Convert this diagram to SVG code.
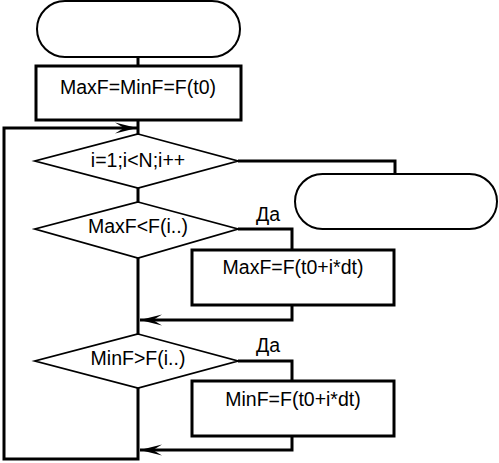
<svg xmlns="http://www.w3.org/2000/svg" width="499" height="463" viewBox="0 0 499 463">
<style>
text{font-family:"Liberation Sans",Arial,sans-serif;font-size:19.5px;fill:#000;text-anchor:middle}
.term{fill:#fff;stroke:#000;stroke-width:2}
.proc{fill:#fff;stroke:#000;stroke-width:3}
.dec{fill:#fff;stroke:#000;stroke-width:1.8}
.con{fill:none;stroke:#000;stroke-width:3}
</style>
<defs>
<marker id="arr" markerWidth="24" markerHeight="14" refX="22" refY="7" orient="auto" markerUnits="userSpaceOnUse">
<path d="M0,1.5 L22,7 L0,12.5 L9,7 Z" fill="#000"/>
</marker>
</defs>
<g id="connectors">
<path class="con" d="M138,57 V66"/>
<path class="con" d="M138,120 V134"/>
<path class="con" d="M138,188 V202"/>
<path class="con" d="M138,258 V334"/>
<path class="con" d="M238,161 H395 V174"/>
<path class="con" d="M238,229 H292 V250"/>
<path class="con" d="M292,305 V320 H140" marker-end="url(#arr)"/>
<path class="con" d="M238,361 H292 V381"/>
<path class="con" d="M292,436 V450 H140" marker-end="url(#arr)"/>
<path class="con" d="M138,388 V459 H4 V128 H137" marker-end="url(#arr)"/>
</g>
<g id="start"><rect class="term" x="37" y="1" width="203" height="56" rx="28"/></g>
<g id="init"><rect class="proc" x="36" y="66" width="205" height="54"/><text x="138" y="94">MaxF=MinF=F(t0)</text></g>
<g id="loop"><polygon class="dec" points="138,134 238,161 138,188 35,161"/><text x="138" y="167">i=1;i&lt;N;i++</text></g>
<g id="end"><rect class="term" x="295" y="174" width="202" height="55" rx="27.5"/></g>
<g id="cmpmax"><polygon class="dec" points="138,202 238,229 138,258 35,229"/><text x="138" y="233">MaxF&lt;F(i..)</text></g>
<text x="268" y="221">Да</text>
<g id="setmax"><rect class="proc" x="192" y="250" width="202" height="55"/><text x="293" y="274">MaxF=F(t0+i*dt)</text></g>
<g id="cmpmin"><polygon class="dec" points="138,334 238,361 138,388 35,361"/><text x="138" y="365">MinF&gt;F(i..)</text></g>
<text x="268" y="352">Да</text>
<g id="setmin"><rect class="proc" x="192" y="381" width="202" height="55"/><text x="293" y="406">MinF=F(t0+i*dt)</text></g>
</svg>
